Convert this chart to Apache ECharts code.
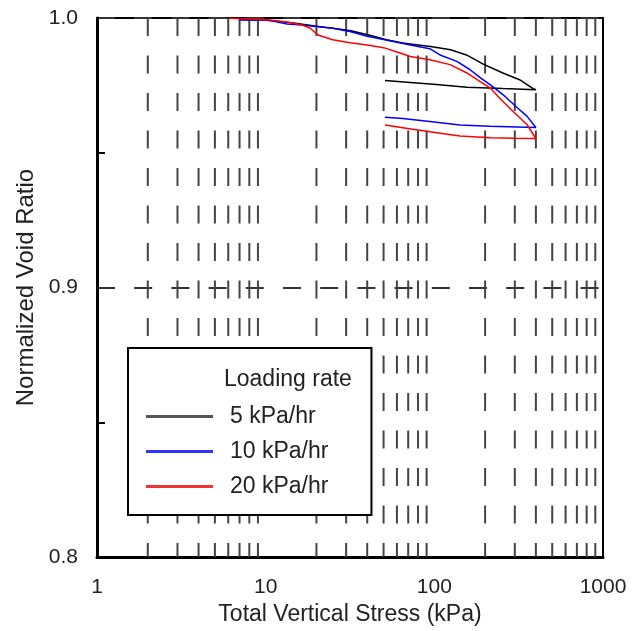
<!DOCTYPE html>
<html>
<head>
<meta charset="utf-8">
<script src="https://cdn.jsdelivr.net/npm/echarts@6/dist/echarts.min.js"></script>
<style>html,body{margin:0;padding:0;background:#fff}#c{width:642px;height:631px}</style>
</head>
<body>
<div id="c"></div>
<script>
// Data
const seriesNames = ['5 kPa/hr', '10 kPa/hr', '20 kPa/hr'];
const xTickLabels = ['1', '10', '100', '1000'];
const yTickLabels = ['0.8', '0.9', '1.0'];
const minorGridX = [2,3,4,5,6,7,8,9,20,30,40,50,60,70,80,90,200,300,400,500,600,700,800,900];

const stress5 = [7, 10, 15, 20, 25, 32, 42, 52, 65, 80, 95, 125, 155, 195, 255, 320, 385, 400, 255, 156, 103, 69, 51];
const ratio5  = [0.9995, 0.9992, 0.9981, 0.9969, 0.9962, 0.9953, 0.9935, 0.9919, 0.9907, 0.9900, 0.9894, 0.9882, 0.9863, 0.9829, 0.9796, 0.9771, 0.9738, 0.9734, 0.9738, 0.9743, 0.9753, 0.9762, 0.9768];

const stress10 = [7, 10.5, 13.4, 16.4, 20, 25, 31.6, 40, 50, 62, 72, 94, 108, 136, 163, 186, 214, 255, 309, 354, 400, 309, 214, 142, 94, 65, 51];
const ratio10  = [0.9993, 0.9992, 0.9978, 0.9974, 0.9968, 0.9962, 0.9950, 0.9932, 0.9920, 0.9908, 0.9900, 0.9886, 0.9863, 0.9839, 0.9808, 0.9780, 0.9753, 0.9716, 0.9668, 0.9636, 0.9594, 0.9596, 0.9598, 0.9603, 0.9616, 0.9627, 0.9632];

const stress20 = [6, 10.6, 13.4, 16.4, 18.3, 20.4, 25, 31.6, 40, 50, 62.6, 72, 94, 124, 156, 186, 214, 238, 292, 354, 400, 300, 214, 142, 94, 65, 51];
const ratio20  = [1.0, 0.9993, 0.9985, 0.9974, 0.9963, 0.9937, 0.9919, 0.9908, 0.9900, 0.9890, 0.9870, 0.9857, 0.9845, 0.9827, 0.9796, 0.9765, 0.9741, 0.9710, 0.9654, 0.9605, 0.9553, 0.9554, 0.9556, 0.9562, 0.9578, 0.9593, 0.9603];

const colors = ['#000000', '#0000ff', '#ff0000'];
const legendColors = ['#555555', '#3333ff', '#ee3333'];
const FONT = 'Liberation Sans, Arial, sans-serif';

function pairs(xs, ys) { return xs.map((x, i) => [x, ys[i]]); }

const gridSeries = minorGridX.map(v => ({
  type: 'line',
  data: [[v, 1.0], [v, 0.8]],
  symbol: 'none',
  silent: true,
  z: 1,
  lineStyle: { color: '#444', width: 2, type: [18, 19.5] },
  animation: false
}));

const curveData = [pairs(stress5, ratio5), pairs(stress10, ratio10), pairs(stress20, ratio20)];
const curveSeries = seriesNames.map((n, i) => ({
  name: n,
  type: 'line',
  data: curveData[i],
  symbol: 'none',
  z: 5,
  lineStyle: { color: colors[i], width: 1.5 },
  itemStyle: { color: colors[i] },
  animation: false
}));

const chart = echarts.init(document.getElementById('c'), null, { renderer: 'canvas' });
chart.setOption({
  backgroundColor: '#fff',
  animation: false,
  textStyle: { fontFamily: FONT },
  grid: { left: 97, top: 18, width: 506, height: 542, show: true, borderColor: '#000', borderWidth: 2, backgroundColor: 'transparent' },
  title: {
    text: 'Loading rate', left: 224, top: 368, padding: 0,
    textStyle: { fontSize: 23, fontWeight: 'normal', color: '#222', fontFamily: FONT }
  },
  legend: {
    data: seriesNames.map((n, i) => ({ name: n, icon: 'rect', itemStyle: { color: legendColors[i] } })),
    orient: 'vertical',
    left: 128, top: 348,
    padding: [57, 43, 17, 18],
    itemWidth: 67, itemHeight: 3, itemGap: 12,
    borderColor: '#000', borderWidth: 2, backgroundColor: '#fff',
    textStyle: { fontSize: 23, color: '#222', fontFamily: FONT, padding: [0, 0, 0, 12] }
  },
  xAxis: {
    type: 'log', logBase: 10, min: 1, max: 1000,
    name: 'Total Vertical Stress (kPa)', nameLocation: 'middle', nameGap: 43,
    nameTextStyle: { fontSize: 23, color: '#222', fontFamily: FONT },
    axisLine: { lineStyle: { color: '#000', width: 3 } },
    axisTick: { show: false },
    splitLine: { show: false },
    axisLabel: { fontSize: 21, color: '#222', margin: 20, fontFamily: FONT,
      formatter: v => { const k = Math.round(Math.log10(v)); return xTickLabels[k] !== undefined ? xTickLabels[k] : ''; } }
  },
  yAxis: {
    type: 'value', min: 0.8, max: 1.0, interval: 0.1,
    name: 'Normalized Void Ratio', nameLocation: 'middle', nameGap: 56,
    nameTextStyle: { fontSize: 24, color: '#222', fontFamily: FONT },
    axisLine: { lineStyle: { color: '#000', width: 3 } },
    axisTick: { show: false, inside: true },
    minorTick: { show: true, splitNumber: 2, length: 8, lineStyle: { color: '#000', width: 2 } },
    splitLine: { show: true, lineStyle: { color: '#333', width: 2, type: [18, 19.2] } },
    axisLabel: { fontSize: 21, color: '#222', margin: 19, fontFamily: FONT,
      formatter: v => { const k = Math.round((v - 0.8) / 0.1); return yTickLabels[k] !== undefined ? yTickLabels[k] : ''; } }
  },
  series: gridSeries.concat(curveSeries)
});
</script>
</body>
</html>
